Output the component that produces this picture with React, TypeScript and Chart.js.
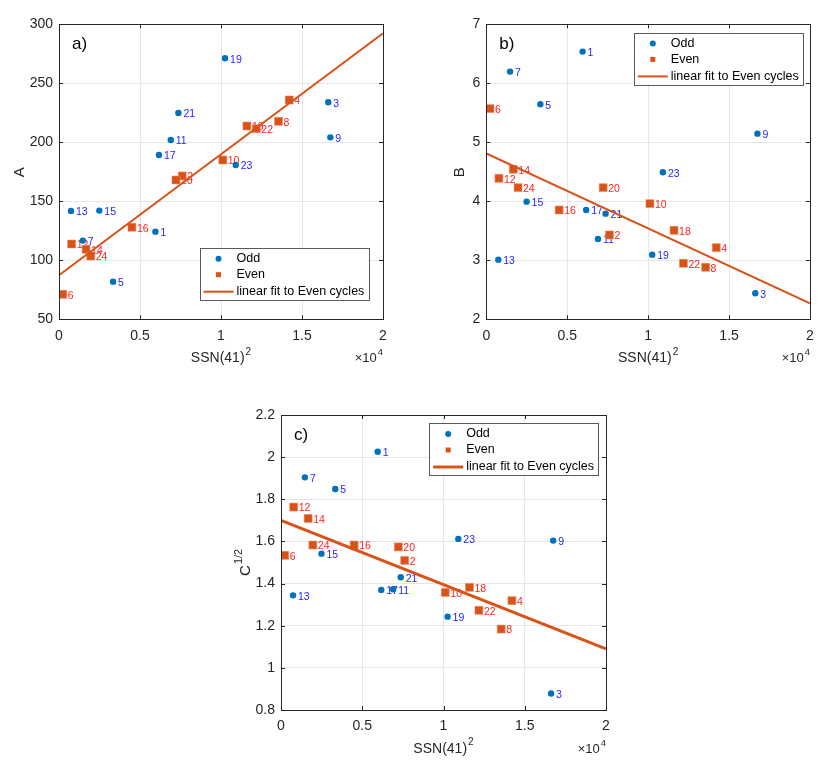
import React, { useEffect, useRef } from 'react';
import Chart from 'chart.js/auto';

// solar cycle numbers and SSN(41)^2 per cycle (cycle n at index n-1)
const cycles = [1, 2, 3, 4, 5, 6, 7, 8, 9, 10, 11, 12, 13, 14, 15, 16, 17, 18, 19, 20, 21, 22, 23, 24];
const ssn41sq = [
  5950, 7610, 16620, 14210, 3340, 230, 1470, 13550, 16750, 10110, 6900, 780,
  740, 1670, 2490, 4500, 6170, 11600, 10250, 7220, 7370, 12180, 10910, 1960,
];
const aValues = [
  124.3, 171.5, 233.9, 235.9, 81.9, 71.2, 116.7, 217.8, 204.2, 185.0, 202.0, 113.8,
  141.8, 109.3, 142.1, 128.0, 189.3, 213.8, 271.2, 168.1, 224.9, 211.6, 180.8, 103.7,
];
const bValues = [
  6.537, 3.429, 2.441, 3.215, 5.644, 5.571, 6.198, 2.881, 5.147, 3.96, 3.362, 4.39,
  3.011, 4.542, 3.994, 3.853, 3.853, 3.508, 3.096, 4.232, 3.791, 2.949, 4.492, 4.232,
];
const cValues = [
  2.026, 1.51, 0.878, 1.319, 1.849, 1.534, 1.904, 1.184, 1.604, 1.358, 1.373, 1.763,
  1.344, 1.709, 1.542, 1.583, 1.37, 1.382, 1.243, 1.574, 1.43, 1.273, 1.612, 1.583,
];
// fit line ends at x = 0 and x = 2e4
const fitX = [0, 20000];
const fitA = [87.3, 292.4];
const fitB = [4.81, 2.27];
const fitC = [1.7, 1.09];
const xTicks = [0, 5000, 10000, 15000, 20000];

const BLUE = '#0072BD';
const ORANGE = '#D95319';
const INK = '#262626';
const GRID = '#e6e6e6';
const FONT = '"Liberation Sans", Arial, Helvetica, sans-serif';

type Panel = {
  values: number[];
  fit: number[];
  yMin: number;
  yMax: number;
  yStep: number;
  tag: string;
  yTitle: string;
  ySup: string;
  left: number;
  top: number;
  width: number;
  height: number;
  axisW: number;
  padTop: number;
  padRight: number;
  xAxisH: number;
  legendRight: number;
  legendTop: number;
  fitWidth: number;
  yTitleDx: number;
};

const fmt = (v: number) => String(Math.round(v * 10) / 10);

const drawSup = (ctx: CanvasRenderingContext2D, base: string, sup: string, x: number, y: number, size: number, align: 'center' | 'right') => {
  ctx.font = `${size}px ${FONT}`;
  const wb = ctx.measureText(base).width;
  ctx.font = `${size * 0.72}px ${FONT}`;
  const ws = ctx.measureText(sup).width;
  const total = wb + ws + 1;
  const x0 = align === 'center' ? x - total / 2 : x - total;
  ctx.textAlign = 'left';
  ctx.textBaseline = 'middle';
  ctx.font = `${size}px ${FONT}`;
  ctx.fillText(base, x0, y);
  ctx.font = `${size * 0.72}px ${FONT}`;
  ctx.fillText(sup, x0 + wb + 1, y - size * 0.45);
};

const decor = (p: Panel) => ({
  id: 'decor',
  beforeDatasetsDraw(chart: any) {
    const ctx = chart.ctx as CanvasRenderingContext2D;
    ctx.save();
    ctx.font = `10.5px ${FONT}`;
    ctx.textAlign = 'left';
    ctx.textBaseline = 'middle';
    [0, 1].forEach((di) => {
      const meta = chart.getDatasetMeta(di);
      const ds = chart.data.datasets[di];
      ctx.fillStyle = di === 0 ? '#1f1fff' : '#ff1f1f';
      meta.data.forEach((el: any, i: number) => {
        ctx.fillText(String(ds.data[i].n), el.x + 5, el.y + 1.5);
      });
    });
    ctx.restore();
  },
  afterDraw(chart: any) {
    const ctx = chart.ctx as CanvasRenderingContext2D;
    const a = chart.chartArea;
    const xs = chart.scales.x;
    const ys = chart.scales.y;
    ctx.save();
    // box and inside ticks
    ctx.strokeStyle = INK;
    ctx.lineWidth = 1;
    ctx.strokeRect(Math.round(a.left) + 0.5, Math.round(a.top) + 0.5, Math.round(a.right - a.left), Math.round(a.bottom - a.top));
    ctx.beginPath();
    xs.ticks.forEach((t: any) => {
      const px = Math.round(xs.getPixelForValue(t.value)) + 0.5;
      ctx.moveTo(px, a.bottom);
      ctx.lineTo(px, a.bottom - 4);
      ctx.moveTo(px, a.top);
      ctx.lineTo(px, a.top + 4);
    });
    ys.ticks.forEach((t: any) => {
      const py = Math.round(ys.getPixelForValue(t.value)) + 0.5;
      ctx.moveTo(a.left, py);
      ctx.lineTo(a.left + 4, py);
      ctx.moveTo(a.right, py);
      ctx.lineTo(a.right - 4, py);
    });
    ctx.stroke();

    // panel tag
    ctx.fillStyle = '#000';
    ctx.font = `17px ${FONT}`;
    ctx.textAlign = 'left';
    ctx.textBaseline = 'middle';
    ctx.fillText(p.tag, a.left + 13, a.top + 20.5);

    // x title and multiplier
    ctx.fillStyle = INK;
    const cx = (a.left + a.right) / 2;
    drawSup(ctx, 'SSN(41)', '2', cx, a.bottom + 39, 14, 'center');
    drawSup(ctx, '\u00d710', '4', a.right, a.bottom + 39, 13, 'right');

    // y title
    ctx.save();
    ctx.translate(a.left + p.yTitleDx, (a.top + a.bottom) / 2);
    ctx.rotate(-Math.PI / 2);
    drawSup(ctx, p.yTitle, p.ySup, 0, 0, 15, 'center');
    ctx.restore();

    // legend
    const lw = 168.5;
    const lh = 51.5;
    const lx = a.right - p.legendRight - lw;
    const ly = a.top + p.legendTop;
    ctx.fillStyle = '#fff';
    ctx.fillRect(lx, ly, lw, lh);
    ctx.strokeStyle = '#5a5a5a';
    ctx.lineWidth = 1;
    ctx.strokeRect(Math.round(lx) + 0.5, Math.round(ly) + 0.5, Math.round(lw), Math.round(lh));
    ctx.fillStyle = BLUE;
    ctx.beginPath();
    ctx.arc(lx + 19, ly + 10.7, 3, 0, Math.PI * 2);
    ctx.fill();
    ctx.fillStyle = ORANGE;
    ctx.fillRect(lx + 16.5, ly + 24.2, 5, 5);
    ctx.strokeStyle = ORANGE;
    ctx.lineWidth = p.fitWidth;
    ctx.beginPath();
    ctx.moveTo(lx + 4, ly + 43.7);
    ctx.lineTo(lx + 34, ly + 43.7);
    ctx.stroke();
    ctx.fillStyle = '#000';
    ctx.font = `12.5px ${FONT}`;
    ctx.textAlign = 'left';
    ctx.textBaseline = 'middle';
    ctx.fillText('Odd', lx + 37, ly + 10.7);
    ctx.fillText('Even', lx + 37, ly + 26.7);
    ctx.fillText('linear fit to Even cycles', lx + 37, ly + 43.7);
    ctx.restore();
  },
});

const ScatterPanel = (p: Panel) => {
  const canvasDom = useRef<HTMLCanvasElement>(null);
  useEffect(() => {
    if (!canvasDom.current) {
      return;
    }
    const odd = cycles.filter((c) => c % 2 === 1).map((c) => ({ x: ssn41sq[c - 1], y: p.values[c - 1], n: c }));
    const even = cycles.filter((c) => c % 2 === 0).map((c) => ({ x: ssn41sq[c - 1], y: p.values[c - 1], n: c }));
    const fitPts = fitX.map((x, i) => ({ x, y: p.fit[i] }));
    const tickFont = { family: FONT, size: 14 };

    const myChart = new Chart(canvasDom.current, {
      type: 'scatter',
      data: {
        datasets: [
          { label: 'Odd', data: odd, pointStyle: 'circle', pointRadius: 3.2, backgroundColor: BLUE, borderColor: BLUE, borderWidth: 0, order: 2 },
          { label: 'Even', data: even, pointStyle: 'rect', pointRadius: 5.6, backgroundColor: ORANGE, borderColor: '#e4875d', borderWidth: 0.6, order: 1 },
          { type: 'line', label: 'linear fit to Even cycles', data: fitPts, borderColor: ORANGE, borderWidth: p.fitWidth, pointRadius: 0, fill: false, order: 0 },
        ],
      } as any,
      options: {
        responsive: false,
        animation: false,
        layout: { padding: { top: p.padTop, right: p.padRight, left: 0, bottom: 0 } },
        plugins: { legend: { display: false }, tooltip: { enabled: false } },
        scales: {
          x: {
            type: 'linear',
            min: 0,
            max: 20000,
            afterBuildTicks: (s: any) => {
              s.ticks = xTicks.map((v) => ({ value: v }));
            },
            afterFit: (s: any) => {
              s.height = p.xAxisH;
            },
            ticks: { callback: (v: any) => fmt(Number(v) / 10000), font: tickFont, color: INK, padding: 8, maxRotation: 0 },
            grid: { color: GRID, drawTicks: false },
            border: { display: false },
          },
          y: {
            type: 'linear',
            min: p.yMin,
            max: p.yMax,
            afterFit: (s: any) => {
              s.width = p.axisW;
            },
            ticks: { stepSize: p.yStep, callback: (v: any) => fmt(Number(v)), font: tickFont, color: INK, padding: 6 },
            grid: { color: GRID, drawTicks: false },
            border: { display: false },
          },
        },
      },
      plugins: [decor(p)],
    });

    return () => {
      myChart.destroy();
    };
  }, []);

  return (
    <canvas
      ref={canvasDom}
      width={p.width}
      height={p.height}
      style={{ position: 'absolute', left: p.left, top: p.top, width: p.width, height: p.height }}
    ></canvas>
  );
};

const panels: Panel[] = [
  {
    values: aValues, fit: fitA, yMin: 50, yMax: 300, yStep: 50, tag: 'a)', yTitle: 'A', ySup: '',
    left: 0, top: 0, width: 410, height: 384, axisW: 59, padTop: 24.3, padRight: 27, xAxisH: 64.7,
    legendRight: 15, legendTop: 223.7, fitWidth: 2, yTitleDx: -39,
  },
  {
    values: bValues, fit: fitB, yMin: 2, yMax: 7, yStep: 1, tag: 'b)', yTitle: 'B', ySup: '',
    left: 410, top: 0, width: 420, height: 384, axisW: 76.3, padTop: 24.3, padRight: 20, xAxisH: 64.7,
    legendRight: 7.7, legendTop: 8.4, fitWidth: 2, yTitleDx: -26,
  },
  {
    values: cValues, fit: fitC, yMin: 0.8, yMax: 2.2, yStep: 0.2, tag: 'c)', yTitle: 'C', ySup: '1/2',
    left: 200, top: 384, width: 430, height: 384, axisW: 81, padTop: 31, padRight: 24, xAxisH: 58,
    legendRight: 8.3, legendTop: 8.3, fitWidth: 3, yTitleDx: -35,
  },
];

export default function App() {
  return (
    <div style={{ position: 'absolute', left: 0, top: 0, width: 830, height: 768, background: '#fff' }}>
      {panels.map((p) => (
        <ScatterPanel key={p.tag} {...p} />
      ))}
    </div>
  );
}
